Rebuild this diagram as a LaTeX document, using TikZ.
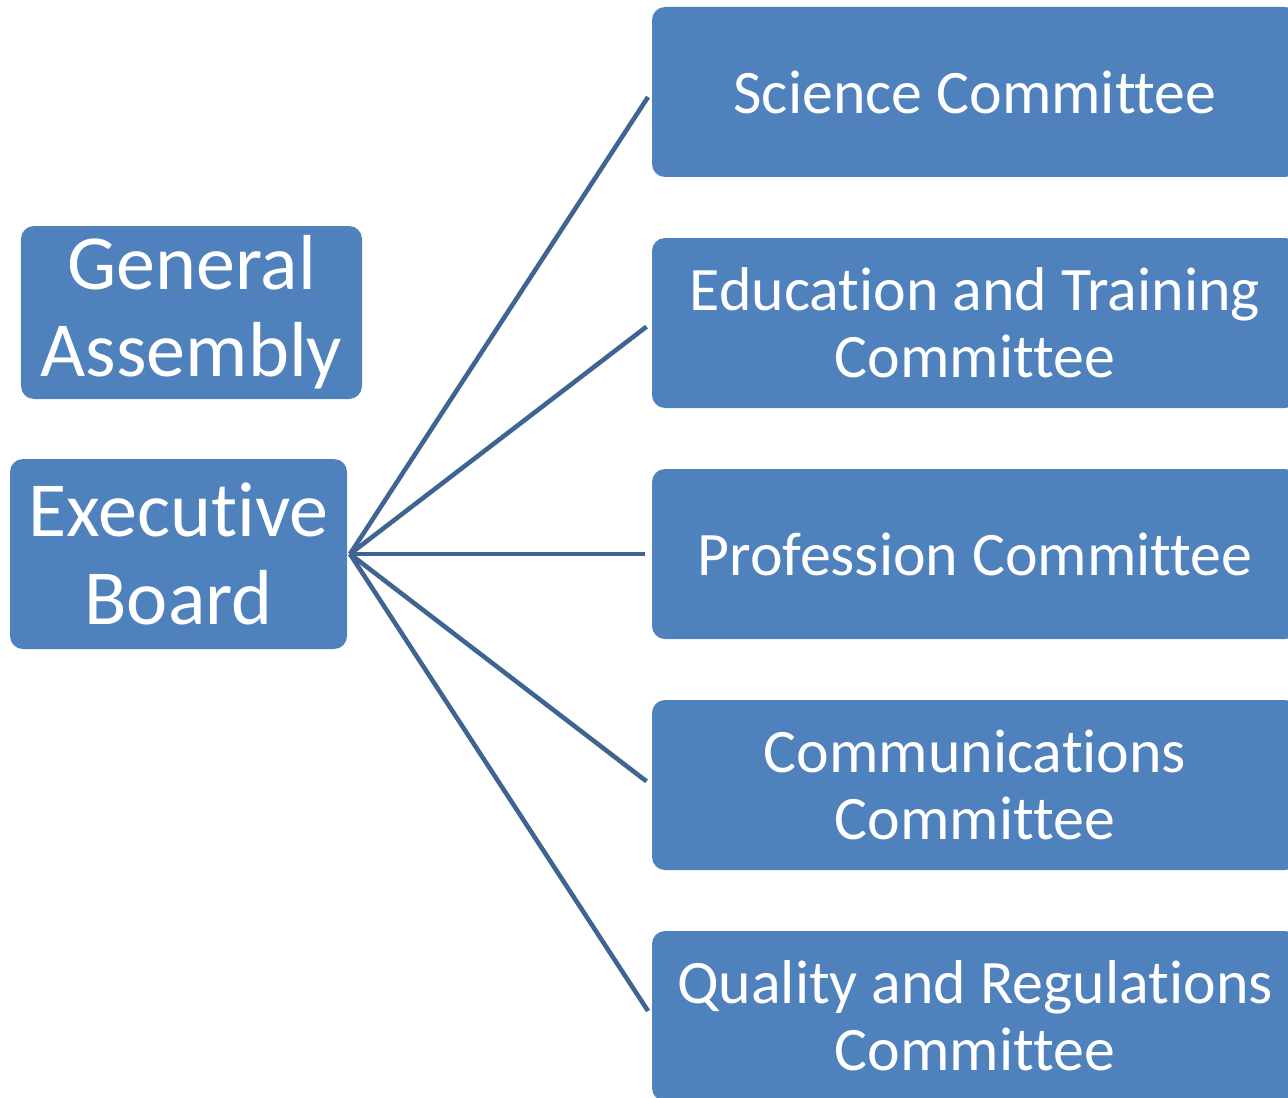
\documentclass[tikz,border=0pt]{standalone}
\usepackage{fontspec}
\setmainfont[Ligatures=NoCommon]{Carlito}
\definecolor{boxblue}{RGB}{79,129,189}
\definecolor{lineblue}{RGB}{62,100,148}

\begin{document}
\begin{tikzpicture}[
  orgbox/.style={fill=boxblue, rounded corners=0.13cm, text=white, align=center, inner sep=0pt},
  bigbox/.style={orgbox, font=\fontsize{22.2pt}{24.8pt}\selectfont},
  combox/.style={orgbox, minimum width=6.46cm, minimum height=1.70cm, font=\fontsize{17.6pt}{19.1pt}\selectfont},
  link/.style={draw=lineblue, line width=1.3pt, shorten >=0.06cm}
]
\useasboundingbox (0,0) rectangle (12.88,-10.97);
\node[bigbox, minimum width=3.41cm, minimum height=1.73cm] (ga) at (1.915,-3.125) {General\\Assembly};
\node[bigbox, minimum width=3.37cm, minimum height=1.90cm] (eb) at (1.785,-5.54) {Executive\\Board};
\coordinate (hub) at (3.50,-5.54);
\node[combox] (sci) at (9.75,-0.92) {Science Committee};
\node[combox] (edu) at (9.75,-3.23) {Education and Training\\Committee};
\node[combox] (pro) at (9.75,-5.54) {Profession Committee};
\node[combox] (com) at (9.75,-7.85) {Communications\\Committee};
\node[combox] (qua) at (9.75,-10.16) {Quality and Regulations\\Committee};
\foreach \c in {sci,edu,pro,com,qua} {
\draw[link] (hub) -- (\c.west);
}
\end{tikzpicture}
\end{document}
